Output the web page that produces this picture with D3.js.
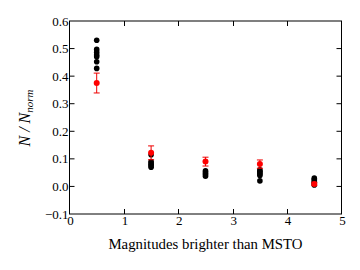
<html>
<head>
    <script src="https://d3js.org/d3.v7.min.js"></script>
    <style>
        body { margin: 0; background: #fff; }
        text { font-family: "Liberation Serif", "DejaVu Serif", serif; }
    </style>
</head>
<body>
<script>
    // magnitude bins
    const bins = [0.5, 1.5, 2.5, 3.5, 4.5]
    // individual (black) points per bin
    const blackVals = [
        [0.53, 0.497, 0.487, 0.477, 0.47, 0.452, 0.428],
        [0.115, 0.09, 0.085, 0.08, 0.075, 0.07],
        [0.057, 0.052, 0.047, 0.042, 0.037],
        [0.06, 0.055, 0.05, 0.045, 0.04, 0.02],
        [0.03, 0.025, 0.02, 0.015, 0.01, 0.005]
    ]
    // mean (red) points and errors
    const redVals = [0.375, 0.122, 0.09, 0.081, 0.009]
    const redErr = [0.036, 0.025, 0.016, 0.015, 0.006]
    const xTicks = [0, 1, 2, 3, 4, 5]
    const yTicks = [-0.1, 0, 0.1, 0.2, 0.3, 0.4, 0.5, 0.6]

    const W = 360, H = 270
    const pLeft = 69.5, pRight = 341.5, pTop = 21, pBottom = 214

    const svg = d3.select('body').append('svg')
        .attr('width', W)
        .attr('height', H)

    const x = d3.scaleLinear().domain([0, 5]).range([pLeft, pRight])
    const y = d3.scaleLinear().domain([-0.1, 0.6]).range([pBottom, pTop])

    // ticks, inward on all four sides
    const tick = 5
    svg.selectAll('.xt').data(xTicks.slice(1, -1)).enter().append('line')
        .attr('x1', d => Math.round(x(d)) + 0.5).attr('x2', d => Math.round(x(d)) + 0.5)
        .attr('y1', pBottom).attr('y2', pBottom - tick)
        .attr('stroke', '#000')
    svg.selectAll('.xtt').data(xTicks.slice(1, -1)).enter().append('line')
        .attr('x1', d => Math.round(x(d)) + 0.5).attr('x2', d => Math.round(x(d)) + 0.5)
        .attr('y1', pTop).attr('y2', pTop + tick)
        .attr('stroke', '#000')
    svg.selectAll('.yt').data(yTicks.slice(1, -1)).enter().append('line')
        .attr('x1', pLeft).attr('x2', pLeft + tick)
        .attr('y1', d => y(d)).attr('y2', d => y(d))
        .attr('stroke', '#000')
    svg.selectAll('.ytr').data(yTicks.slice(1, -1)).enter().append('line')
        .attr('x1', pRight).attr('x2', pRight - tick)
        .attr('y1', d => y(d)).attr('y2', d => y(d))
        .attr('stroke', '#000')

    // frame
    svg.append('rect')
        .attr('x', pLeft).attr('y', pTop)
        .attr('width', pRight - pLeft).attr('height', pBottom - pTop)
        .attr('fill', 'none').attr('stroke', '#000')

    // tick labels
    svg.selectAll('.yl').data(yTicks).enter().append('text')
        .attr('x', pLeft - 1)
        .attr('y', d => y(d) + 4.5)
        .attr('text-anchor', 'end')
        .attr('font-size', '13px')
        .text(d => d < 0 ? '\u2212' + Math.abs(d).toFixed(1) : d.toFixed(1))
    svg.selectAll('.xl').data(xTicks).enter().append('text')
        .attr('x', d => x(d) + 1)
        .attr('y', pBottom + 11)
        .attr('text-anchor', 'middle')
        .attr('font-size', '13px')
        .text(d => d)

    // axis titles
    svg.append('text')
        .attr('x', (pLeft + pRight) / 2)
        .attr('y', 249)
        .attr('text-anchor', 'middle')
        .attr('font-size', '14.8px')
        .text('Magnitudes brighter than MSTO')

    const yl = svg.append('text')
        .attr('transform', 'translate(30,118) rotate(-90)')
        .attr('text-anchor', 'middle')
        .attr('font-size', '16px')
        .attr('font-style', 'italic')
    yl.append('tspan').text('N / N')
    yl.append('tspan').attr('font-size', '11px').attr('dy', 3).text('norm')

    // black points
    const blackPts = []
    bins.forEach((b, i) => blackVals[i].forEach(v => blackPts.push({ b: b, v: v })))
    svg.selectAll('.bp').data(blackPts).enter().append('circle')
        .attr('cx', d => x(d.b))
        .attr('cy', d => y(d.v))
        .attr('r', 2.8)
        .attr('fill', '#000')

    // red points with error bars
    const red = bins.map((b, i) => ({ b: b, v: redVals[i], e: redErr[i] }))
    const g = svg.append('g').attr('stroke', '#e00').attr('stroke-width', 1)
    g.selectAll('.eb').data(red).enter().append('line')
        .attr('x1', d => x(d.b)).attr('x2', d => x(d.b))
        .attr('y1', d => y(d.v - d.e)).attr('y2', d => y(d.v + d.e))
    g.selectAll('.ct').data(red).enter().append('line')
        .attr('x1', d => x(d.b) - 3).attr('x2', d => x(d.b) + 3)
        .attr('y1', d => y(d.v + d.e)).attr('y2', d => y(d.v + d.e))
    g.selectAll('.cb').data(red).enter().append('line')
        .attr('x1', d => x(d.b) - 3).attr('x2', d => x(d.b) + 3)
        .attr('y1', d => y(d.v - d.e)).attr('y2', d => y(d.v - d.e))
    svg.selectAll('.rp').data(red).enter().append('circle')
        .attr('cx', d => x(d.b))
        .attr('cy', d => y(d.v))
        .attr('r', 3)
        .attr('fill', '#f00')
</script>
</body>
</html>
